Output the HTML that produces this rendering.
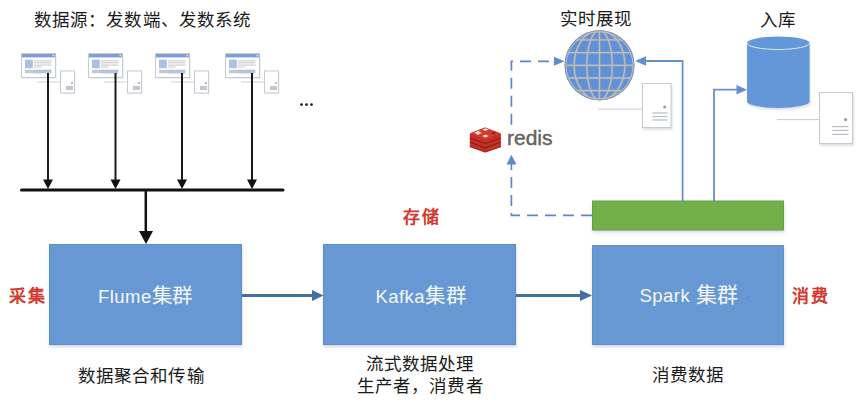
<!DOCTYPE html>
<html lang="zh-CN"><head><meta charset="utf-8">
<style>
html,body{margin:0;padding:0;background:#fff;}
body{width:865px;height:403px;position:relative;overflow:hidden;font-family:"Liberation Sans",sans-serif;}
.t{position:absolute;white-space:nowrap;line-height:1;color:#1a1a1a;font-weight:500;}
.l{font-size:17.5px;letter-spacing:1.1px;}
.red{color:#d3392d;font-weight:bold;font-size:17px;letter-spacing:2.2px;}
.w{color:#f4f8fc;letter-spacing:0.45px;}
.c{font-size:20.5px;letter-spacing:0.6px;}
svg{position:absolute;left:0;top:0;}
</style></head><body>
<svg width="865" height="403" viewBox="0 0 865 403">
  <defs>
    <filter id="sh2" x="-20%" y="-20%" width="140%" height="140%"><feDropShadow dx="1" dy="2" stdDeviation="1.2" flood-color="#9098a8" flood-opacity="0.3"/></filter>
    <filter id="sh" x="-10%" y="-10%" width="120%" height="130%"><feDropShadow dx="0.5" dy="2" stdDeviation="1.5" flood-color="#8090a8" flood-opacity="0.35"/></filter>
    
  </defs>

  <!-- PC icons -->
  <g transform="translate(21,53)">
      <rect x="1" y="2" width="35" height="24" fill="#eef0f3"/>
      <rect x="0.5" y="0.5" width="34" height="24" fill="#fff" stroke="#c6cad1" stroke-width="1"/>
      <rect x="1" y="1" width="33" height="3.4" fill="#7d9fd4"/>
      <rect x="31.5" y="1.8" width="1.6" height="1.4" fill="#e6eefa"/>
      <rect x="4" y="6.7" width="7.8" height="8.5" fill="#a9c1e4"/>
      <g fill="#c4bfc0">
        <rect x="12.9" y="7.4" width="17.7" height="0.9"/>
        <rect x="12.9" y="9.4" width="17.7" height="0.9"/>
        <rect x="12.9" y="11.6" width="17.7" height="0.9"/>
        <rect x="12.9" y="13.5" width="7.6" height="0.9"/>
      </g>
      <rect x="4" y="16.8" width="26.2" height="3.4" fill="#c3c9d3"/>
      <rect x="12.9" y="16.8" width="17.3" height="3.4" fill="#b6c3d9"/>
      <line x1="16" y1="29" x2="39.5" y2="29" stroke="#cdd0d6" stroke-width="1"/>
      <rect x="40.5" y="19" width="14" height="22" fill="#eef0f3"/>
      <rect x="39.5" y="18" width="14" height="22" fill="#fff" stroke="#c6cad1" stroke-width="1"/>
      <circle cx="51" cy="30" r="1" fill="#9aa0aa"/>
      <rect x="45" y="33" width="7" height="4" fill="#c3c6cc"/>
    </g>
  <g transform="translate(88,53)">
      <rect x="1" y="2" width="35" height="24" fill="#eef0f3"/>
      <rect x="0.5" y="0.5" width="34" height="24" fill="#fff" stroke="#c6cad1" stroke-width="1"/>
      <rect x="1" y="1" width="33" height="3.4" fill="#7d9fd4"/>
      <rect x="31.5" y="1.8" width="1.6" height="1.4" fill="#e6eefa"/>
      <rect x="4" y="6.7" width="7.8" height="8.5" fill="#a9c1e4"/>
      <g fill="#c4bfc0">
        <rect x="12.9" y="7.4" width="17.7" height="0.9"/>
        <rect x="12.9" y="9.4" width="17.7" height="0.9"/>
        <rect x="12.9" y="11.6" width="17.7" height="0.9"/>
        <rect x="12.9" y="13.5" width="7.6" height="0.9"/>
      </g>
      <rect x="4" y="16.8" width="26.2" height="3.4" fill="#c3c9d3"/>
      <rect x="12.9" y="16.8" width="17.3" height="3.4" fill="#b6c3d9"/>
      <line x1="16" y1="29" x2="39.5" y2="29" stroke="#cdd0d6" stroke-width="1"/>
      <rect x="40.5" y="19" width="14" height="22" fill="#eef0f3"/>
      <rect x="39.5" y="18" width="14" height="22" fill="#fff" stroke="#c6cad1" stroke-width="1"/>
      <circle cx="51" cy="30" r="1" fill="#9aa0aa"/>
      <rect x="45" y="33" width="7" height="4" fill="#c3c6cc"/>
    </g>
  <g transform="translate(155,53)">
      <rect x="1" y="2" width="35" height="24" fill="#eef0f3"/>
      <rect x="0.5" y="0.5" width="34" height="24" fill="#fff" stroke="#c6cad1" stroke-width="1"/>
      <rect x="1" y="1" width="33" height="3.4" fill="#7d9fd4"/>
      <rect x="31.5" y="1.8" width="1.6" height="1.4" fill="#e6eefa"/>
      <rect x="4" y="6.7" width="7.8" height="8.5" fill="#a9c1e4"/>
      <g fill="#c4bfc0">
        <rect x="12.9" y="7.4" width="17.7" height="0.9"/>
        <rect x="12.9" y="9.4" width="17.7" height="0.9"/>
        <rect x="12.9" y="11.6" width="17.7" height="0.9"/>
        <rect x="12.9" y="13.5" width="7.6" height="0.9"/>
      </g>
      <rect x="4" y="16.8" width="26.2" height="3.4" fill="#c3c9d3"/>
      <rect x="12.9" y="16.8" width="17.3" height="3.4" fill="#b6c3d9"/>
      <line x1="16" y1="29" x2="39.5" y2="29" stroke="#cdd0d6" stroke-width="1"/>
      <rect x="40.5" y="19" width="14" height="22" fill="#eef0f3"/>
      <rect x="39.5" y="18" width="14" height="22" fill="#fff" stroke="#c6cad1" stroke-width="1"/>
      <circle cx="51" cy="30" r="1" fill="#9aa0aa"/>
      <rect x="45" y="33" width="7" height="4" fill="#c3c6cc"/>
    </g>
  <g transform="translate(225,53)">
      <rect x="1" y="2" width="35" height="24" fill="#eef0f3"/>
      <rect x="0.5" y="0.5" width="34" height="24" fill="#fff" stroke="#c6cad1" stroke-width="1"/>
      <rect x="1" y="1" width="33" height="3.4" fill="#7d9fd4"/>
      <rect x="31.5" y="1.8" width="1.6" height="1.4" fill="#e6eefa"/>
      <rect x="4" y="6.7" width="7.8" height="8.5" fill="#a9c1e4"/>
      <g fill="#c4bfc0">
        <rect x="12.9" y="7.4" width="17.7" height="0.9"/>
        <rect x="12.9" y="9.4" width="17.7" height="0.9"/>
        <rect x="12.9" y="11.6" width="17.7" height="0.9"/>
        <rect x="12.9" y="13.5" width="7.6" height="0.9"/>
      </g>
      <rect x="4" y="16.8" width="26.2" height="3.4" fill="#c3c9d3"/>
      <rect x="12.9" y="16.8" width="17.3" height="3.4" fill="#b6c3d9"/>
      <line x1="16" y1="29" x2="39.5" y2="29" stroke="#cdd0d6" stroke-width="1"/>
      <rect x="40.5" y="19" width="14" height="22" fill="#eef0f3"/>
      <rect x="39.5" y="18" width="14" height="22" fill="#fff" stroke="#c6cad1" stroke-width="1"/>
      <circle cx="51" cy="30" r="1" fill="#9aa0aa"/>
      <rect x="45" y="33" width="7" height="4" fill="#c3c6cc"/>
    </g>

  <!-- down arrows to bus -->
  <g stroke="#1a1a1a" stroke-width="2">
    <line x1="48" y1="73" x2="48" y2="182"/>
    <line x1="115.5" y1="73" x2="115.5" y2="182"/>
    <line x1="182" y1="73" x2="182" y2="182"/>
    <line x1="252" y1="73" x2="252" y2="182"/>
  </g>
  <g fill="#111">
    <polygon points="43,179.5 53,179.5 48,189"/>
    <polygon points="110.5,179.5 120.5,179.5 115.5,189"/>
    <polygon points="177,179.5 187,179.5 182,189"/>
    <polygon points="247,179.5 257,179.5 252,189"/>
  </g>
  <!-- bus -->
  <line x1="21.5" y1="190" x2="283" y2="190" stroke="#111" stroke-width="3" stroke-linecap="round"/>
  <line x1="145.8" y1="190" x2="145.8" y2="233" stroke="#111" stroke-width="2.5"/>
  <polygon points="139,231 153,231 146,244" fill="#111"/>

  <!-- dots -->
  <g fill="#222"><circle cx="301.5" cy="104.6" r="1.4"/><circle cx="306.5" cy="104.6" r="1.4"/><circle cx="311.5" cy="104.6" r="1.4"/></g>

  <!-- boxes -->
  <g fill="#6798d3" stroke="#5f8fca" stroke-width="1" filter="url(#sh)">
    <rect x="49.5" y="244.5" width="192" height="100"/>
    <rect x="323.5" y="244.5" width="192" height="100"/>
    <rect x="592.5" y="245.5" width="191" height="99"/>
  </g>
  <rect x="592.5" y="201" width="191" height="29" fill="#72ae4a" stroke="#64a03f" stroke-width="1" filter="url(#sh)"/>

  <!-- horizontal arrows -->
  <g stroke="#41719c" stroke-width="3">
    <line x1="242" y1="295.5" x2="313" y2="295.5"/>
    <line x1="516" y1="295.5" x2="581" y2="295.5"/>
  </g>
  <g fill="#41719c">
    <polygon points="312,290 312,301 323.5,295.5"/>
    <polygon points="580,290 580,301 592,295.5"/>
  </g>

  <!-- blue lines to globe & cylinder -->
  <g stroke="#6391cd" stroke-width="1.8" fill="none">
    <polyline points="682.6,201 682.6,61 645,61"/>
    <polyline points="714,201 714,89.7 737,89.7"/>
  </g>
  <g fill="#6391cd">
    <polygon points="646,56.3 646,65.7 635,61"/>
    <polygon points="736.5,85 736.5,94.5 747,89.7"/>
  </g>

  <!-- dashed lines -->
  <g stroke="#5d88c6" stroke-width="1.7" fill="none" stroke-dasharray="11 7">
    <polyline points="592,215.3 511.4,215.3 511.4,164"/>
    <polyline points="511.4,124.7 511.4,61.3 554,61.3" stroke-dasharray="11 7" stroke-dashoffset="0"/>
  </g>
  <g fill="#5d8ac8">
    <polygon points="506.5,164.5 516.5,164.5 511.4,154.7"/>
    <polygon points="554,56.8 554,65.8 564.4,61.3"/>
  </g>

  <!-- globe -->
  <clipPath id="gclip"><circle cx="599.5" cy="65.3" r="35"/></clipPath>
  <g clip-path="url(#gclip)">
    <circle cx="599.5" cy="65.3" r="35" fill="#5d92da"/>
    <g fill="none" stroke="#8f97a5" stroke-width="2.7"><ellipse cx="599.5" cy="65.3" rx="12.70" ry="35"/><ellipse cx="599.5" cy="65.3" rx="25.40" ry="35"/><line x1="599.5" y1="30.299999999999997" x2="599.5" y2="100.3"/><line x1="575.42" y1="39.90" x2="623.58" y2="39.90"/><line x1="566.89" y1="52.60" x2="632.11" y2="52.60"/><line x1="564.50" y1="65.30" x2="634.50" y2="65.30"/><line x1="566.89" y1="78.00" x2="632.11" y2="78.00"/><line x1="575.42" y1="90.70" x2="623.58" y2="90.70"/></g>
    <g fill="none" stroke="#b6bfcc" stroke-width="1.3"><ellipse cx="599.5" cy="65.3" rx="12.70" ry="35"/><ellipse cx="599.5" cy="65.3" rx="25.40" ry="35"/><line x1="599.5" y1="30.299999999999997" x2="599.5" y2="100.3"/><line x1="575.42" y1="39.90" x2="623.58" y2="39.90"/><line x1="566.89" y1="52.60" x2="632.11" y2="52.60"/><line x1="564.50" y1="65.30" x2="634.50" y2="65.30"/><line x1="566.89" y1="78.00" x2="632.11" y2="78.00"/><line x1="575.42" y1="90.70" x2="623.58" y2="90.70"/></g>
  </g>
  <circle cx="599.5" cy="65.3" r="34.5" fill="none" stroke="#8c94a3" stroke-width="1.1"/>
  <circle cx="599.5" cy="65.3" r="33.5" fill="none" stroke="#b9c1ce" stroke-width="1"/>

  <!-- servers -->
  <line x1="598" y1="109" x2="642" y2="109" stroke="#c9ccd2" stroke-width="1"/>
  <rect x="642.5" y="83.5" width="28.5" height="44" fill="#fff" stroke="#c6cad1" stroke-width="1" filter="url(#sh2)"/>
  <circle cx="664.7" cy="107" r="1.6" fill="#9aa0aa"/>
  <g stroke="#b8bcc4" stroke-width="1.2"><line x1="652.5" y1="113" x2="667.5" y2="113"/><line x1="652.5" y1="116.5" x2="667.5" y2="116.5"/><line x1="652.5" y1="120" x2="667.5" y2="120"/></g>

  <!-- cylinder -->
  <path d="M747,43 L747,101.5 A31.3,6.5 0 0 0 809.6,101.5 L809.6,43 A31.3,6.5 0 0 0 747,43 Z" fill="#6397d7" filter="url(#sh2)"/>
  <path d="M747,43 A31.3,6.5 0 0 0 809.6,43" fill="none" stroke="#dfe9f6" stroke-width="1"/>

  <line x1="777" y1="119.6" x2="819.5" y2="119.6" stroke="#c9ccd2" stroke-width="1"/>
  <rect x="819.5" y="92.5" width="33" height="51" fill="#fff" stroke="#c6cad1" stroke-width="1" filter="url(#sh2)"/>
  <circle cx="845.6" cy="119.6" r="1.7" fill="#9aa0aa"/>
  <g stroke="#b8bcc4" stroke-width="1.2"><line x1="832.2" y1="126.6" x2="848.5" y2="126.6"/><line x1="832.2" y1="130.4" x2="848.5" y2="130.4"/><line x1="832.2" y1="134.4" x2="848.5" y2="134.4"/></g>

  <line x1="744.5" y1="298.5" x2="750.5" y2="296.5" stroke="#587eb3" stroke-width="1" opacity="0.6"/>
  <!-- redis logo -->
  <g>
    <polygon points="469.8,133.6 485,127.4 500.9,133.6 500.9,147 485.2,152.4 469.8,147" fill="#c23128"/>
    <polyline points="469.8,142.3 485.2,147.8 500.9,142.3" fill="none" stroke="#8f1d14" stroke-width="1.1"/>
    <polyline points="469.8,138 485.2,143.4 500.9,138" fill="none" stroke="#8f1d14" stroke-width="1.1"/>
    <polyline points="469.8,146.6 485.2,152 500.9,146.6" fill="none" stroke="#9a2016" stroke-width="0.8"/>
    <polygon points="469.8,133.6 485,127.4 500.9,133.6 485.2,139.4" fill="#d63a2c"/>
    <polygon points="474.3,132.8 478.3,130.9 482,132.7 478,134.7" fill="#f3ddd8"/>
    <polygon points="482.3,129.5 485.6,128.2 488.8,129.6 485.4,131" fill="#f3ddd8"/>
    <polygon points="482.4,135.9 485.6,134.5 488.6,136 485.3,137.4" fill="#f3ddd8"/>
    <polygon points="490,133.4 495,131.6 495.5,134.2" fill="#8f1d14"/>
  </g>
</svg>

<div class="t l" style="left:34px;top:11.5px;">数据源：发数端、发数系统</div>
<div class="t l" style="left:560px;top:11px;">实时展现</div>
<div class="t l" style="left:760px;top:11.5px;">入库</div>
<div class="t red" style="left:9px;top:288px;">采集</div>
<div class="t red" style="left:403px;top:209px;">存储</div>
<div class="t red" style="left:791.5px;top:288px;">消费</div>
<div class="t w" style="left:98px;top:285.5px;font-size:18.5px;">Flume<span class="c">集群</span></div>
<div class="t w" style="left:375.5px;top:285.5px;font-size:18.5px;">Kafka<span class="c">集群</span></div>
<div class="t w" style="left:639.5px;top:283.5px;font-size:18.5px;">Spark <span class="c" style="font-size:21px">集群</span></div>
<div class="t l" style="left:78px;top:367.5px;">数据聚合和传输</div>
<div class="t l" style="left:366px;top:355.5px;">流式数据处理</div>
<div class="t l" style="left:357px;top:378px;">生产者，消费者</div>
<div class="t l" style="left:652px;top:367px;">消费数据</div>
<div class="t" style="left:507px;top:127px;font-size:21px;color:#626262;-webkit-text-stroke:0.4px #626262;">redis</div>
</body></html>
